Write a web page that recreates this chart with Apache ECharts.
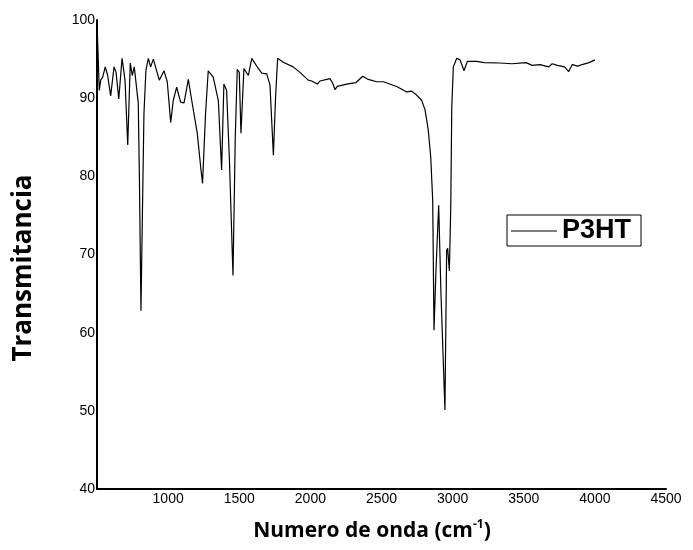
<!DOCTYPE html>
<html>
<head>
<meta charset="utf-8">
<script src="https://cdn.jsdelivr.net/npm/echarts@6/dist/echarts.min.js"></script>
<style>
  html, body { margin: 0; padding: 0; background: #fff; }
  #chart { width: 693px; height: 550px; }
</style>
</head>
<body>
<div id="chart"></div>
<script>
// numero de onda (cm-1)
const wavenumbers = [
  500, 516, 526, 540, 558, 575, 596, 620, 634, 653, 676, 697, 716, 734, 748, 762,
  790, 798, 809, 819, 830, 844, 861, 877, 896, 938, 971, 994, 1018, 1036, 1060,
  1088, 1112, 1142, 1166, 1205, 1230, 1242, 1263, 1282, 1317, 1353, 1376, 1392,
  1411, 1431, 1456, 1472, 1486, 1500, 1512, 1533, 1564, 1588, 1634, 1658, 1693,
  1716, 1740, 1755, 1770, 1809, 1879, 1927, 1985, 2009, 2049, 2068, 2138, 2157,
  2173, 2189, 2255, 2321, 2368, 2407, 2466, 2513, 2607, 2677, 2712, 2747, 2783,
  2806, 2829, 2846, 2860, 2869, 2883, 2902, 2918, 2946, 2958, 2965, 2977, 2987,
  2994, 3005, 3029, 3052, 3080, 3103, 3169, 3221, 3333, 3417, 3516, 3560, 3614,
  3676, 3700, 3737, 3787, 3816, 3841, 3880, 3910, 3959, 4000
];
// transmitancia (%)
const transmitancia = [
  99.8, 91.0, 92.3, 92.7, 94.0, 92.9, 90.3, 94.0, 93.3, 89.9, 95.1, 92.3, 84.0, 94.5, 92.9, 94.0,
  89.4, 80.0, 62.8, 75.0, 88.0, 93.6, 95.1, 94.0, 95.0, 92.3, 93.5, 92.1, 86.9, 89.7, 91.4,
  89.5, 89.4, 92.4, 89.7, 85.5, 81.0, 79.1, 88.0, 93.5, 92.7, 89.7, 80.8, 91.8,
  91.0, 82.0, 67.3, 85.0, 93.7, 93.3, 85.5, 93.8, 92.9, 95.1, 93.8, 93.2, 93.1,
  91.7, 82.7, 90.0, 95.1, 94.6, 94.0, 93.3, 92.3, 92.2, 91.8, 92.2, 92.5, 91.9,
  91.1, 91.5, 91.8, 92.0, 92.8, 92.4, 92.1, 92.1, 91.5, 90.8, 90.9, 90.4, 89.7,
  88.5, 85.9, 82.5, 76.9, 60.3, 68.0, 76.3, 65.0, 50.1, 70.5, 70.8, 67.9, 76.1,
  88.9, 94.0, 95.1, 94.9, 93.5, 94.7, 94.7, 94.55, 94.5, 94.4, 94.55, 94.2, 94.3,
  94.0, 94.4, 94.2, 94.0, 93.4, 94.3, 94.1, 94.3, 94.55, 94.9
];
const serieName = 'P3HT';

const chart = echarts.init(document.getElementById('chart'));

const option = {
  backgroundColor: '#fff',
  animation: false,
  grid: { left: 97, right: 27, top: 20, bottom: 61 },
  legend: {
    data: [serieName],
    left: 507,
    top: 215,
    padding: [2, 10, 1, 4],
    borderColor: '#000',
    borderWidth: 1,
    icon: 'rect',
    itemWidth: 46,
    itemHeight: 1.2,
    itemGap: 5,
    textStyle: {
      fontFamily: 'Liberation Sans',
      fontWeight: 'bold',
      fontSize: 27,
      color: '#000',
      lineHeight: 28
    }
  },
  xAxis: {
    type: 'value',
    min: 500,
    max: 4500,
    interval: 500,
    axisLine: { lineStyle: { color: '#000', width: 2 } },
    axisTick: { show: false },
    splitLine: { show: false },
    axisLabel: {
      showMinLabel: false,
      margin: 3,
      color: '#000',
      fontFamily: 'Liberation Sans',
      fontSize: 14,
      formatter: v => String(v)
    }
  },
  yAxis: {
    type: 'value',
    min: 40,
    max: 100,
    interval: 10,
    axisLine: { show: true, lineStyle: { color: '#000', width: 2 } },
    axisTick: { show: false },
    splitLine: { show: false },
    axisLabel: {
      margin: 2,
      color: '#000',
      fontFamily: 'Liberation Sans',
      fontSize: 14
    }
  },
  graphic: [
    {
      type: 'text',
      x: 24,
      y: 268,
      rotation: Math.PI / 2,
      style: {
        text: 'Transmitancia',
        fontFamily: 'Open Sans',
        fontWeight: 'bold',
        fontSize: 26,
        fill: '#000',
        align: 'center',
        verticalAlign: 'middle'
      }
    },
    {
      type: 'text',
      x: 372,
      y: 531,
      style: {
        text: '{t|Numero de onda (cm}{s|-1}{t|)}',
        align: 'center',
        verticalAlign: 'middle',
        rich: {
          t: { fontFamily: 'Open Sans', fontWeight: 'bold', fontSize: 21, fill: '#000' },
          s: { fontFamily: 'Open Sans', fontWeight: 'bold', fontSize: 12, fill: '#000', padding: [0, 0, 12, 0] }
        }
      }
    }
  ],
  series: [
    {
      name: serieName,
      type: 'line',
      symbol: 'none',
      smooth: false,
      lineStyle: { color: '#000', width: 1.2 },
      itemStyle: { color: '#000' },
      data: wavenumbers.map((w, i) => [w, transmitancia[i]])
    }
  ]
};

chart.setOption(option);
</script>
</body>
</html>
